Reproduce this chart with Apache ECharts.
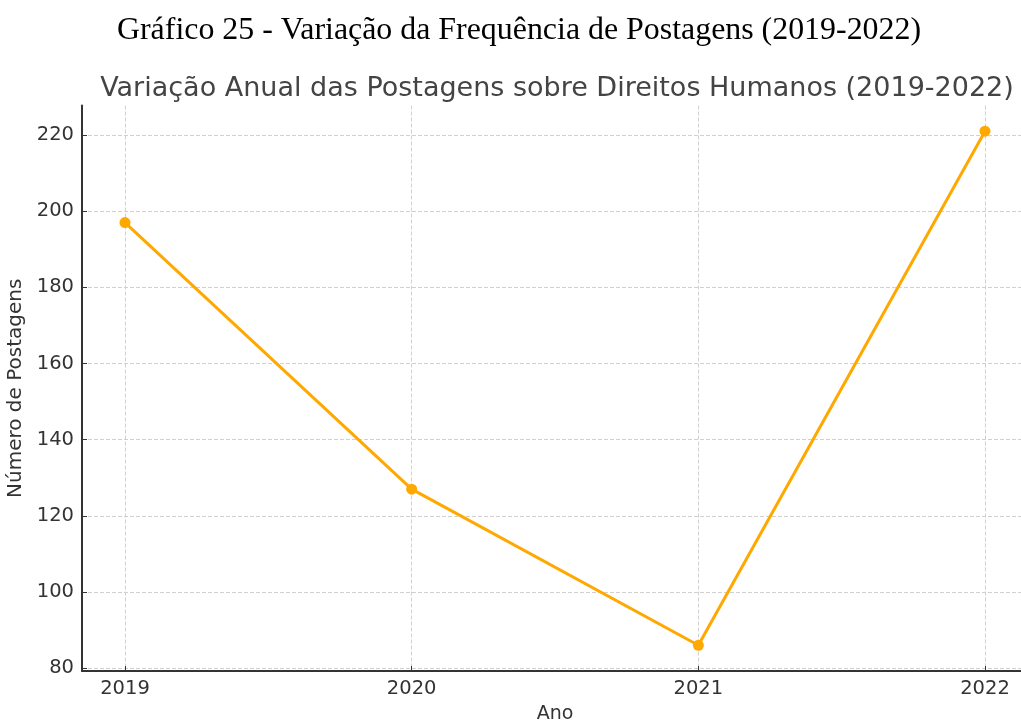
<!DOCTYPE html>
<html><head><meta charset="utf-8">
<script src="https://cdn.jsdelivr.net/npm/echarts@6/dist/echarts.min.js"></script>
<style>html,body{margin:0;padding:0;background:#fff}#c{width:1021px;height:722px}</style>
</head><body><div id="c"></div>
<script>
const years = [2019, 2020, 2021, 2022];
const posts = [197, 127, 86, 221];
const yTicks = [80, 100, 120, 140, 160, 180, 200, 220];
const caption = 'Gráfico 25 - Variação da Frequência de Postagens (2019-2022)';
const chartTitle = 'Variação Anual das Postagens sobre Direitos Humanos (2019-2022)';

const chart = echarts.init(document.getElementById('c'));
const axisColor = '#333';
chart.setOption({
  animation: false,
  backgroundColor: '#fff',
  title: [
    {text: caption, left: 514, top: 10, textAlign: 'center',
     textStyle: {fontFamily: 'Liberation Serif', fontSize: 31.9, fontWeight: 'normal', color: '#000'}},
    {text: chartTitle, left: 552, top: 70, textAlign: 'center',
     textStyle: {fontFamily: 'DejaVu Sans', fontSize: 27, fontWeight: 'normal', color: '#444'}}
  ],
  grid: {left: 82, top: 105.5, bottom: 51, right: -7, containLabel: false, outerBoundsMode: 'none'},
  xAxis: {
    type: 'value', min: 2018.85, max: 2022.15,
    name: 'Ano', nameLocation: 'middle', nameGap: 34,
    nameTextStyle: {fontFamily: 'DejaVu Sans', fontSize: 19, color: '#333'},
    axisLine: {show: true, lineStyle: {color: axisColor, width: 2}},
    axisTick: {show: true, inside: true, length: 5, customValues: years, lineStyle: {color: axisColor}},
    axisLabel: {customValues: years, formatter: v => String(v), margin: 8,
      fontFamily: 'DejaVu Sans', fontSize: 19.5, color: '#333'},
    splitLine: {show: true, lineStyle: {type: 'dashed', color: '#d0d0d0', width: 1}}
  },
  yAxis: {
    type: 'value', min: 79.25, max: 227.75,
    name: 'Número de Postagens', nameLocation: 'middle', nameGap: 53, nameRotate: 90,
    nameTextStyle: {fontFamily: 'DejaVu Sans', fontSize: 20, color: '#333'},
    axisLine: {show: true, lineStyle: {color: axisColor, width: 2}},
    axisTick: {show: true, inside: true, length: 5, customValues: yTicks, lineStyle: {color: axisColor}},
    axisLabel: {customValues: yTicks, formatter: v => String(v), margin: 8,
      fontFamily: 'DejaVu Sans', fontSize: 19.5, color: '#333'},
    splitLine: {show: true, lineStyle: {type: 'dashed', color: '#d0d0d0', width: 1}}
  },
  series: [{
    type: 'line',
    data: years.map((y, i) => [y, posts[i]]),
    symbol: 'circle', symbolSize: 11,
    lineStyle: {color: '#FFA800', width: 3},
    itemStyle: {color: '#FFA800'}
  }]
});
</script></body></html>
